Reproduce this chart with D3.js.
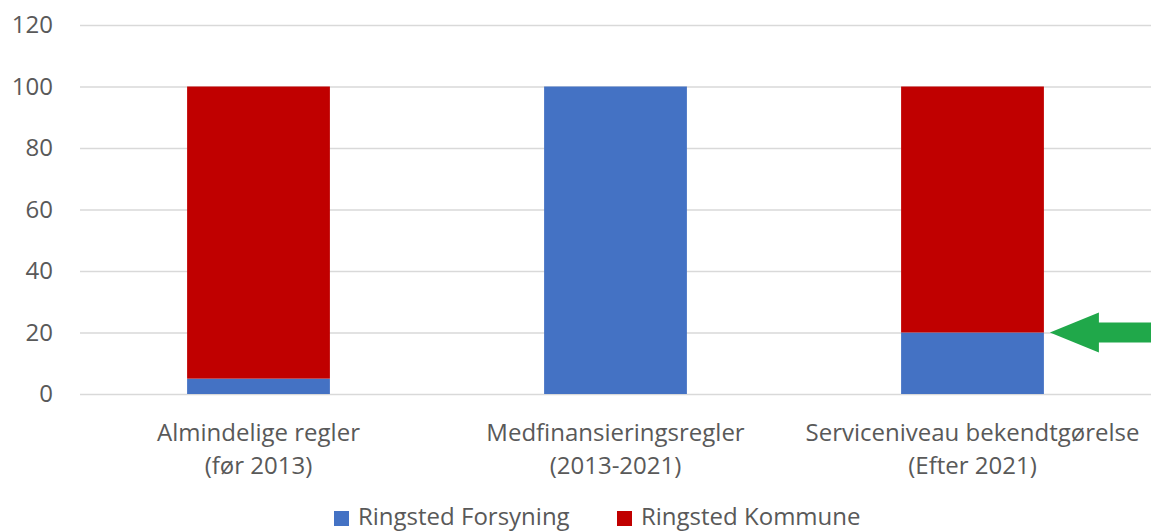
<!DOCTYPE html>
<html>
<head>
<meta charset="utf-8">
<script src="https://cdn.jsdelivr.net/npm/d3@7"></script>
<style>
  body { margin: 0; background: #fff; }
  text { font-family: "Open Sans", sans-serif; fill: #595959; }
</style>
</head>
<body>
<div id="chart"></div>
<script>
// categories (two-line labels) and the two stacked series
const categories = ["Almindelige regler|(før 2013)", "Medfinansieringsregler|(2013-2021)", "Serviceniveau bekendtgørelse|(Efter 2021)"];
const forsyning = [5, 100, 20];   // Ringsted Forsyning
const kommune = [95, 0, 80];      // Ringsted Kommune
const seriesNames = ["Ringsted Forsyning", "Ringsted Kommune"];
const seriesColors = ["#4472c4", "#c00000"];
const yTicks = [0, 20, 40, 60, 80, 100, 120];

const width = 1151, height = 531,
      margin = ({ top: 25, right: 0, bottom: 137, left: 80 });

const table = categories.map((c, i) => ({ cat: c, "Ringsted Forsyning": forsyning[i], "Ringsted Kommune": kommune[i] }));
const stacked = d3.stack().keys(seriesNames)(table);

let svg = d3.select("#chart")
    .append("svg")
    .attr("width", width)
    .attr("height", height);

let x = d3.scaleBand()
    .domain(categories)
    .range([margin.left, width - margin.right])
    .paddingInner(0.6)
    .paddingOuter(0.3);

let y = d3.scaleLinear()
    .domain([0, 120])
    .range([height - margin.bottom, margin.top]);

// gridlines + y labels
let yAxis = svg.append("g")
    .attr("transform", `translate(${margin.left},0)`)
    .call(d3.axisLeft(y).tickValues(yTicks).tickSize(-(width - margin.left - margin.right)).tickPadding(27));
yAxis.select(".domain").remove();
yAxis.selectAll(".tick line").attr("stroke", "#d9d9d9").attr("stroke-width", 1.5);
yAxis.selectAll(".tick text").style("font-size", "24px").attr("fill", "#595959").attr("font-family", "Open Sans");

// bars
svg.append("g")
  .selectAll("g")
  .data(stacked)
  .join("g")
    .attr("fill", (d, i) => seriesColors[i])
  .selectAll("rect")
  .data(d => d)
  .join("rect")
    .attr("x", d => x(d.data.cat))
    .attr("width", x.bandwidth())
    .attr("y", d => y(d[1]))
    .attr("height", d => y(d[0]) - y(d[1]));

// category labels, two lines each (separate text elements)
let xl = svg.append("g");
categories.forEach(c => {
    c.split("|").forEach((ln, j) => {
        xl.append("text")
            .attr("text-anchor", "middle")
            .style("font-size", "24px")
            .attr("x", x(c) + x.bandwidth() / 2)
            .attr("y", 441 + j * 33)
            .text(ln);
    });
});

// green arrow pointing at the 20 mark of the last bar
const last = categories[2];
const tipX = x(last) + x.bandwidth() + 6, tipY = y(forsyning[2]);
svg.append("path")
    .attr("fill", "#20a84a")
    .attr("d", `M${tipX},${tipY} L${tipX + 49},${tipY - 20} L${tipX + 49},${tipY - 10} L${width},${tipY - 10} L${width},${tipY + 10} L${tipX + 49},${tipY + 10} L${tipX + 49},${tipY + 20} Z`);

// legend
const legendX = [334, 617];
let lg = svg.append("g");
seriesNames.forEach((s, i) => {
    lg.append("rect")
        .attr("x", legendX[i]).attr("y", 511)
        .attr("width", 15).attr("height", 15)
        .attr("fill", seriesColors[i]);
    lg.append("text")
        .attr("x", legendX[i] + 24).attr("y", 525)
        .style("font-size", "24px")
        .text(s);
});
</script>
</body>
</html>
